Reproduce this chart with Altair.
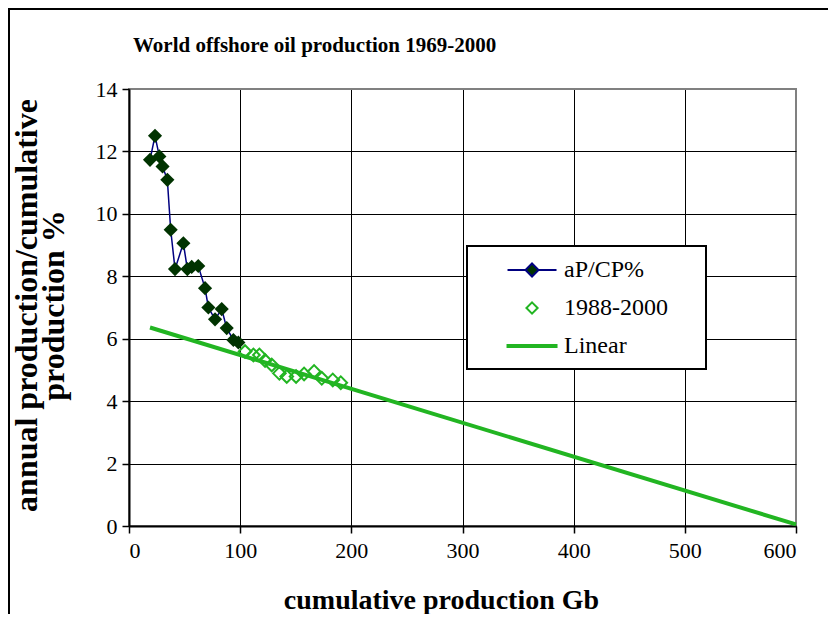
import altair as alt
import pandas as pd

TITLE = "World offshore oil production 1969-2000"
X_TITLE = "cumulative production Gb"
Y_TITLE = ["annual production/cumulative", "production %"]

series_names = ["aP/CP%", "1988-2000", "Linear"]

# 1969-1987 (dark diamonds)
cum_early = [18.9, 23.4, 27.3, 30.2, 34.5, 37.5, 41.4, 48.9, 52.5, 56.4,
             62.3, 68.4, 71.4, 77.4, 83.4, 87.9, 93.9, 98.4]
pct_early = [11.73, 12.50, 11.84, 11.52, 11.09, 9.49, 8.23, 9.06, 8.23, 8.30,
             8.33, 7.62, 7.00, 6.62, 6.95, 6.34, 5.96, 5.88]

# 1988-2000 (hollow green diamonds)
cum_late = [104.4, 111.9, 117.3, 122.4, 128.4, 135.3, 141.9, 150.3, 157.5,
            166.5, 173.4, 183.3, 190.5]
pct_late = [5.59, 5.48, 5.48, 5.30, 5.16, 4.89, 4.79, 4.79, 4.87, 4.95,
            4.73, 4.68, 4.59]

# linear trend end points
lin_x = [18.9, 600.0]
lin_y = [6.36, 0.05]

x_ticks = [0, 100, 200, 300, 400, 500, 600]
y_ticks = [0, 2, 4, 6, 8, 10, 12, 14]

NAVY = "#000080"
DARK = "#003300"
GREEN = "#22B522"
SERIF = "Liberation Serif"

early = pd.DataFrame({"cum": cum_early, "pct": pct_early})
late = pd.DataFrame({"cum": cum_late, "pct": pct_late})
lin = pd.DataFrame({"cum": lin_x, "pct": lin_y})
leg = pd.DataFrame({"series": series_names})
one_row = pd.DataFrame({"k": [0]})

xs = alt.Scale(domain=[0, 600], nice=False, zero=False)
ys = alt.Scale(domain=[0, 14], nice=False, zero=False)

x_enc = alt.X(
    "cum:Q", scale=xs, title=X_TITLE,
    axis=alt.Axis(
        values=x_ticks, format="d", grid=True,
        gridColor={"condition": {"test": "datum.value == 600", "value": "#808080"}, "value": "black"},
        gridWidth=1, domainColor="black", domainWidth=2, tickColor="black",
        tickWidth=1.5, tickSize=7, labelFont=SERIF, labelFontSize=22,
        labelColor="black", labelPadding=7, titleFont=SERIF, titleFontSize=28,
        titleFontWeight="bold", titleColor="black", titleBaseline="middle",
        titleY=74, titleX=312,
    ),
)
y_enc = alt.Y(
    "pct:Q", scale=ys, title=Y_TITLE,
    axis=alt.Axis(
        values=y_ticks, format="d", grid=True,
        gridColor={"condition": {"test": "datum.value == 14", "value": "#808080"}, "value": "black"},
        gridWidth=1, domainColor="black", domainWidth=2, tickColor="black",
        tickWidth=1.5, tickSize=7, labelFont=SERIF, labelFontSize=22,
        labelColor="black", labelPadding=5, titleFont=SERIF, titleFontSize=32,
        titleFontWeight="bold", titleColor="black", titleLineHeight=27,
        titleBaseline="middle", titleAlign="center", titleAngle=-90,
        titleX=-103, titleY=216,
    ),
)

base_line = alt.Chart(early).mark_line(color=NAVY, strokeWidth=1.5).encode(x=x_enc, y=y_enc)
dark_pts = alt.Chart(early).mark_point(
    shape="diamond", filled=True, color=DARK, size=200, opacity=1
).encode(x="cum:Q", y="pct:Q")
late_pts = alt.Chart(late).mark_point(
    shape="diamond", filled=False, color=GREEN, size=160, strokeWidth=2, opacity=1
).encode(x="cum:Q", y="pct:Q")
lin_line = alt.Chart(lin).mark_line(color=GREEN, strokeWidth=4).encode(x="cum:Q", y="pct:Q")

shape_range = [
    "M2.36,0H4.93M6.79,0H9.36M5.86,-0.93L6.79,0L5.86,0.93L4.93,0Z",
    "M5.86,-0.8L6.66,0L5.86,0.8L5.06,0Z",
    "M2.36,-0.15H9.36V0.15H2.36Z",
]
leg_def = alt.Legend(title=None, orient="none", legendX=338, legendY=157)
legend_layer = alt.Chart(leg).mark_point(filled=True, opacity=0, strokeWidth=2).encode(
    x=alt.value(0), y=alt.value(0),
    fill=alt.Fill("series:N", scale=alt.Scale(domain=series_names, range=[DARK, "white", GREEN]), legend=leg_def),
    stroke=alt.Stroke("series:N", scale=alt.Scale(domain=series_names, range=[NAVY, GREEN, GREEN]), legend=leg_def),
    shape=alt.Shape("series:N", scale=alt.Scale(domain=series_names, range=shape_range), legend=leg_def),
)

# decorative boxes: outer chart frame and legend box
frame = alt.Chart(one_row).mark_rect(
    fill="transparent", stroke="black", strokeWidth=2, clip=False
).encode(x=alt.value(-120), y=alt.value(-80), x2=alt.value(720), y2=alt.value(560))
legend_box = alt.Chart(one_row).mark_rect(
    fill="white", stroke="black", strokeWidth=2, clip=False
).encode(x=alt.value(338), y=alt.value(157), x2=alt.value(577), y2=alt.value(280))

chart = alt.layer(frame, base_line, dark_pts, late_pts, lin_line, legend_box, legend_layer).properties(
    width=667, height=437,
    title=alt.TitleParams(TITLE, anchor="start", dx=125, offset=-48, font=SERIF,
                          fontSize=21, fontWeight="bold", color="black"),
    padding={"left": 121, "top": 81, "right": 32, "bottom": 88},
    autosize=alt.AutoSizeParams(type="none"),
    background="white",
).configure_view(
    stroke="#808080", strokeWidth=2
).configure_legend(
    padding=12, rowPadding=14,
    labelFont=SERIF, labelFontSize=24, labelColor="black", labelOffset=61,
    symbolSize=196, symbolStrokeWidth=2, symbolOpacity=1, labelLimit=400,
)

chart.save("out.html", embed_options={"renderer": "svg", "actions": False})
